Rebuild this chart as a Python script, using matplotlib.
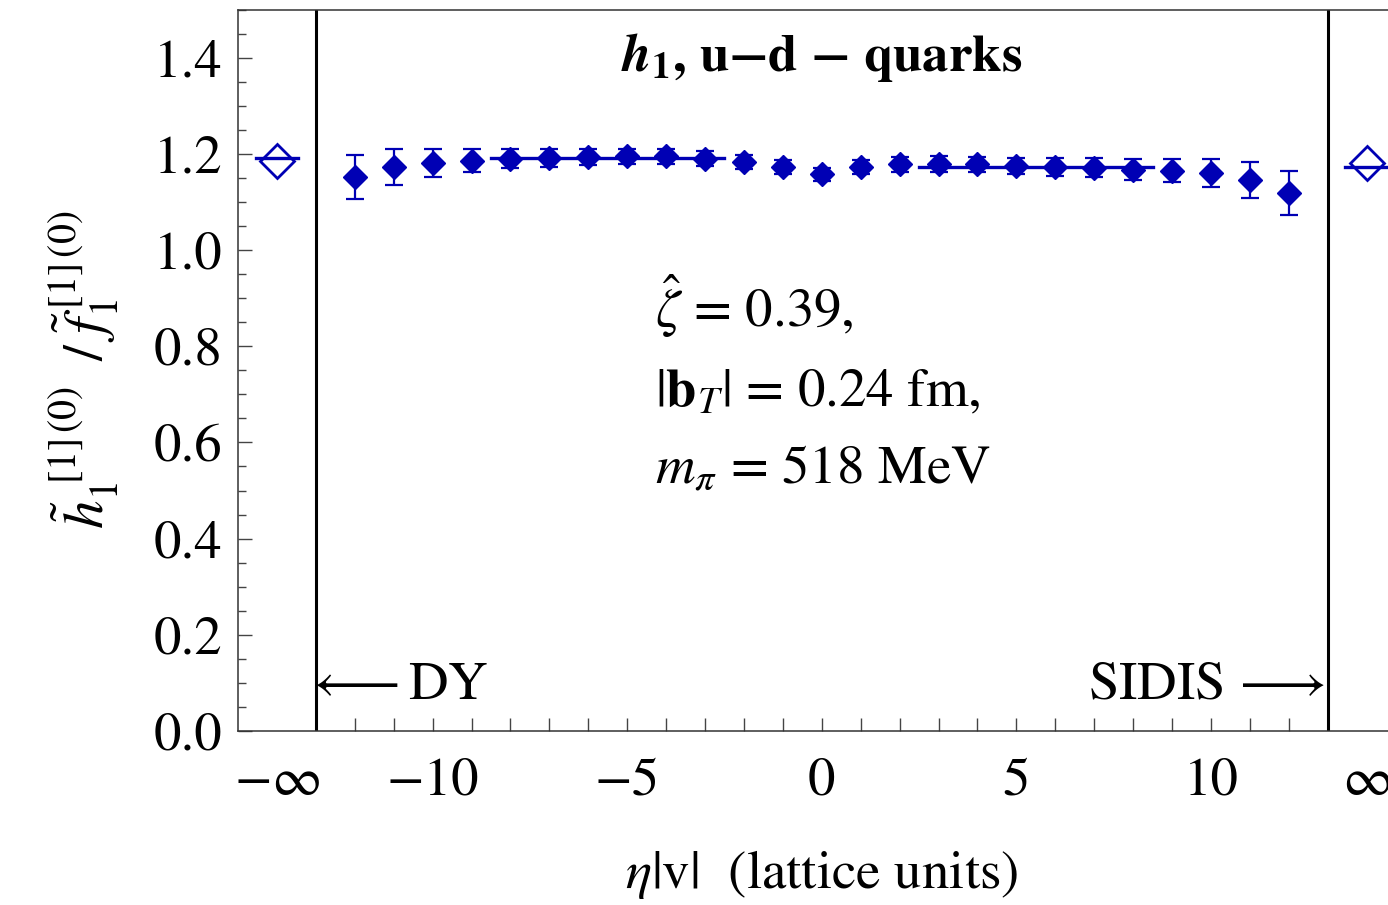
import matplotlib
matplotlib.use('Agg')
import matplotlib.pyplot as plt
import numpy as np

plt.rcParams['font.family'] = ['STIXGeneral', 'DejaVu Serif']
plt.rcParams['mathtext.fontset'] = 'stix'

# lattice data, eta|v| = -12 ... 12
eta = np.arange(-12, 13)
ratio = [1.151, 1.172, 1.181, 1.186, 1.190, 1.192, 1.193, 1.195, 1.195, 1.190,
         1.183, 1.173, 1.157, 1.172, 1.178, 1.179, 1.178, 1.174, 1.172, 1.171,
         1.167, 1.165, 1.160, 1.145, 1.119]
err = [0.046, 0.037, 0.030, 0.024, 0.020, 0.019, 0.017, 0.016, 0.016, 0.015,
       0.015, 0.015, 0.013, 0.015, 0.015, 0.016, 0.016, 0.017, 0.019, 0.020,
       0.022, 0.024, 0.030, 0.037, 0.046]

# extrapolated values at eta -> -inf (DY) and +inf (SIDIS)
eta_inf = [-14, 14]
ratio_inf = [1.184, 1.181]
err_inf = [0.020, 0.018]

# plateau fits
fit_dy = 1.192
fit_dy_range = [-8.5, -2.5]
fit_sidis = 1.173
fit_sidis_range = [2.5, 8.5]

blue = '#0000b4'
fs = 39.5

fig = plt.figure(figsize=(13.88, 9.05), dpi=100)
ax = fig.add_axes([238/1388, 1-731/905, (1405.5-238)/1388, (731-9.5)/905])

ax.errorbar(eta, ratio, yerr=err, fmt='D', color=blue, ms=12.5, elinewidth=1.6,
            capsize=6.5, capthick=1.6, zorder=3)
ax.errorbar(eta_inf, ratio_inf, yerr=err_inf, fmt='D', color=blue, mfc='white',
            mew=2, ms=17, elinewidth=1.6, capsize=4, capthick=1.6, zorder=3)

ax.plot(fit_dy_range, [fit_dy, fit_dy], color=blue, lw=2.4, zorder=2)
ax.plot(fit_sidis_range, [fit_sidis, fit_sidis], color=blue, lw=2.4, zorder=2)
ax.plot([eta_inf[0]-0.55, eta_inf[0]+0.55], [fit_dy, fit_dy], color=blue, lw=2.4, zorder=4)
ax.plot([eta_inf[1]-0.55, eta_inf[1]+0.55], [fit_sidis, fit_sidis], color=blue, lw=2.4, zorder=4)

ax.axvline(-13, color='black', lw=2.2)
ax.axvline(13, color='black', lw=2.2)

ax.set_xlim(-15, 15)
ax.set_ylim(0, 1.5)

ax.set_xticks([-14, -10, -5, 0, 5, 10, 14])
ax.set_xticklabels([r'$-\infty$', '−10', '−5', '0', '5', '10', r'$\infty$'])
ax.set_xticks(np.arange(-12, 13), minor=True)
ax.xaxis.remove_overlapping_locs = False
ax.tick_params(axis='x', which='major', length=0, pad=19, labelsize=fs)
ax.tick_params(axis='x', which='minor', direction='in', length=9.5, width=1, color='#444444')

ax.set_yticks(np.arange(0, 1.41, 0.2))
ax.set_yticklabels(['0.0', '0.2', '0.4', '0.6', '0.8', '1.0', '1.2', '1.4'])
ax.set_yticks(np.arange(0, 1.51, 0.05), minor=True)
ax.tick_params(axis='y', which='major', direction='in', length=10, width=1,
               pad=11, labelsize=fs, color='#444444')
ax.tick_params(axis='y', which='minor', direction='in', length=6, width=1, color='#444444')

for s in ax.spines.values():
    s.set_linewidth(1.1)
    s.set_color('#333333')

ax.text(0, 1.40, r'$\mathbfit{h}_{\mathbf{1}}$, u−d − quarks', ha='center', va='center',
        fontsize=38, fontweight='bold')

ax.text(-4.29, 0.840, r'$\hat{\zeta}$ = 0.39,', fontsize=fs, va='baseline')
ax.text(-4.29, 0.674, r'$|\mathbf{b}_T|$ = 0.24 fm,', fontsize=fs, va='baseline')
ax.text(-4.29, 0.516, r'$m_\pi$ = 518 MeV', fontsize=fs, va='baseline')

ax.text(-13.25, 0.093, r'$\longleftarrow$DY', fontsize=fs, va='center', ha='left')
ax.text(12.93, 0.093, r'SIDIS$\,\longrightarrow$', fontsize=fs, va='center', ha='right')

ax.set_ylabel(r'$\tilde{h}_1^{\;\;[1]\,(0)}\;\;/\;\tilde{f}_1^{\;[1]\,(0)}$', fontsize=41, labelpad=24)
ax.set_xlabel(r'$\eta|\mathrm{v}|$  (lattice units)', fontsize=fs, labelpad=30)

fig.savefig('out.png', dpi=100)
